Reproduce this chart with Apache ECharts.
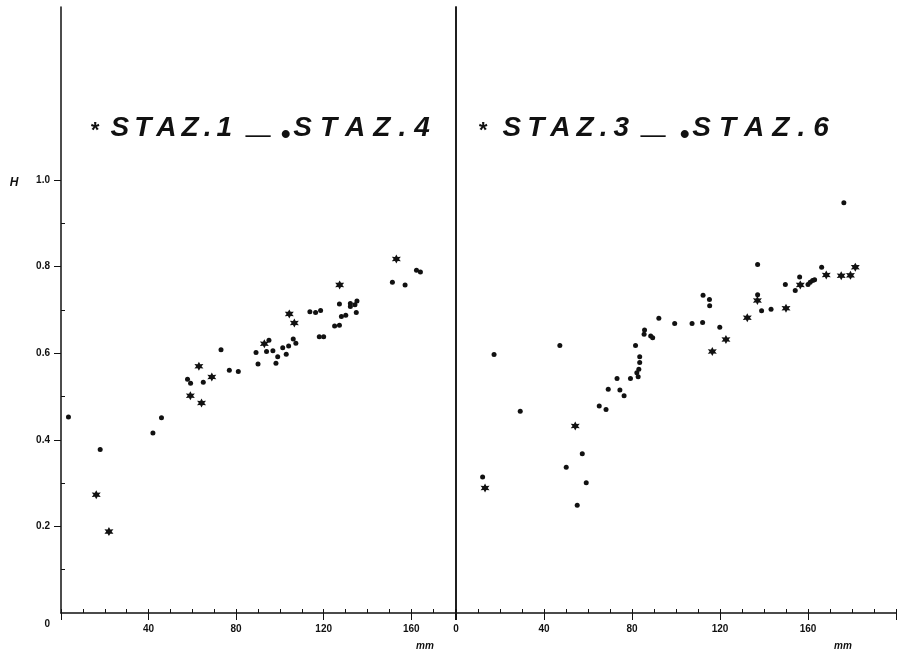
<!DOCTYPE html>
<html lang="it">
<head>
<meta charset="UTF-8">
<title>STAZ</title>
<script src="https://cdn.jsdelivr.net/npm/echarts@6/dist/echarts.min.js"></script>
<style>
  html, body { margin: 0; background: #fff; }
  #main { width: 900px; height: 656px; }
</style>
</head>
<body>
<div id="main"></div>
<script>
// values: [mm, H]
var staz1 = [[16.1,0.273],[21.9,0.188],[59.1,0.502],[63.0,0.570],[64.2,0.485],[68.9,0.545],
  [92.9,0.622],[104.3,0.691],[106.6,0.670],[127.3,0.758],[153.2,0.818]];
var staz4 = [[3.4,0.453],[17.9,0.378],[42.0,0.416],[45.9,0.451],[57.8,0.540],[59.2,0.531],
  [65.0,0.533],[73.1,0.608],[76.9,0.561],[81.0,0.558],[89.1,0.602],[90.0,0.575],[93.9,0.604],
  [95.0,0.630],[96.8,0.606],[98.2,0.577],[99.0,0.592],[101.3,0.613],[102.9,0.598],[104.0,0.617],
  [106.1,0.633],[107.3,0.623],[113.7,0.696],[116.3,0.694],[118.0,0.638],[118.6,0.699],[120.0,0.638],
  [125.0,0.663],[127.2,0.665],[127.2,0.714],[128.1,0.685],[130.1,0.688],[132.2,0.715],[132.2,0.708],
  [134.3,0.712],[134.9,0.694],[135.2,0.721],[151.4,0.764],[157.2,0.758],[162.4,0.792],[164.2,0.788]];
var staz3 = [[13.2,0.289],[54.2,0.432],[116.5,0.604],[122.7,0.632],[132.4,0.682],[137.0,0.722],
  [150.0,0.704],[156.5,0.758],[168.3,0.781],[175.1,0.779],[179.3,0.780],[181.5,0.799]];
var staz6 = [[12.1,0.314],[17.3,0.597],[29.2,0.466],[47.2,0.618],[50.1,0.337],[55.1,0.249],
  [57.4,0.368],[59.2,0.301],[65.1,0.478],[68.2,0.470],[69.2,0.517],[73.2,0.542],[74.5,0.515],
  [76.4,0.502],[79.3,0.542],[81.6,0.618],[82.2,0.555],[82.8,0.546],[83.1,0.563],[83.5,0.579],
  [83.5,0.592],[85.5,0.644],[85.7,0.654],[88.5,0.640],[89.4,0.636],[92.2,0.681],[99.4,0.669],
  [107.3,0.669],[112.1,0.671],[112.3,0.734],[115.2,0.724],[115.3,0.710],[119.9,0.660],[137.1,0.805],
  [137.1,0.735],[138.9,0.698],[143.2,0.702],[149.7,0.759],[154.2,0.745],[156.2,0.776],[160.0,0.759],
  [161.0,0.764],[162.1,0.768],[163.0,0.770],[166.2,0.799],[176.3,0.948]];

var yLabels = [0, 0.2, 0.4, 0.6, 0.8, 1.0];
var yMinor = [0.1, 0.3, 0.5, 0.7, 0.9];
var leftTitle = ['STAZ.1', 'STAZ.4'];
var rightTitle = ['STAZ.3', 'STAZ.6'];

var ink = '#111';
var star = 'path://M10 0L12.6 5.5L18.66 5L15.2 10L18.66 15L12.6 14.5L10 20L7.4 14.5L1.34 15L4.8 10L1.34 5L7.4 5.5Z';
var bold = { fontFamily: 'Liberation Sans', fontWeight: 'bold', color: ink };
var font = { fontFamily: 'Liberation Sans', fontWeight: 'bold', fontStyle: 'italic' };

function titleText(words) {
  var s = '{ast|*}';
  words.forEach(function (w, i) {
    if (i) s += '{u|_}{b|•}';
    for (var k = 0; k < w.length; k++) {
      s += '{' + (k === w.length - 1 ? 'e' : 'c' + i) + '|' + w[k] + '}';
    }
  });
  return s;
}

function tok(size, pad) {
  return Object.assign({ fontSize: size, lineHeight: 36, padding: pad, fill: ink }, font);
}

function titleEl(x, words, gaps, astPad, uPad) {
  return {
    type: 'text', x: x, y: 128,
    style: Object.assign({
      text: titleText(words),
      rich: {
        c0: tok(28, [12, gaps[0], 12, 0]),
        c1: tok(28, [12, gaps[1], 12, 0]),
        e: tok(28, [12, 0, 12, 0]),
        ast: tok(22, [15, astPad, 9, 2]),
        u: tok(44, [4, uPad[1], 20, uPad[0]]),
        b: tok(28, [19, 3, 5, 0])
      },
      fontSize: 28, fill: ink, verticalAlign: 'middle'
    }, font)
  };
}

function axisText(x, y, t, size) {
  return {
    type: 'text', x: x, y: y,
    style: Object.assign({ text: t, fontSize: size, fill: ink, align: 'center', verticalAlign: 'middle' }, font)
  };
}

var lineSt = { color: ink, width: 1.5 };

var option = {
  backgroundColor: '#fff',
  animation: false,
  grid: [
    { left: 61, top: 7, width: 394, height: 606 },
    { left: 456, top: 7, width: 440, height: 606 }
  ],
  xAxis: [
    { type: 'value', gridIndex: 0, min: 0, max: 180, interval: 40,
      axisLine: { lineStyle: lineSt }, splitLine: { show: false },
      axisTick: { length: 7, lineStyle: { color: ink } },
      axisLabel: Object.assign({ fontSize: 10, margin: 11,
        formatter: function (v) { return (v === 0 || v > 160) ? '' : String(v); } }, bold) },
    { type: 'value', gridIndex: 0, min: 0, max: 180, interval: 10,
      axisLine: { show: false }, splitLine: { show: false }, axisLabel: { show: false },
      axisTick: { length: 4, lineStyle: { color: ink } } },
    { type: 'value', gridIndex: 1, min: 0, max: 200, interval: 40,
      axisLine: { lineStyle: lineSt }, splitLine: { show: false },
      axisTick: { length: 7, lineStyle: { color: ink } },
      axisLabel: Object.assign({ fontSize: 10, margin: 11,
        formatter: function (v) { return v > 160 ? '' : String(v); } }, bold) },
    { type: 'value', gridIndex: 1, min: 0, max: 200, interval: 10,
      axisLine: { show: false }, splitLine: { show: false }, axisLabel: { show: false },
      axisTick: { length: 4, lineStyle: { color: ink } } }
  ],
  yAxis: [
    { type: 'value', gridIndex: 0, min: 0, max: 1.4, interval: 0.2,
      axisLine: { show: true, lineStyle: lineSt }, splitLine: { show: false },
      axisTick: { show: true, length: 7, customValues: yLabels.slice(1), lineStyle: { color: ink } },
      axisLabel: Object.assign({ fontSize: 10, margin: 11, customValues: yLabels,
        formatter: function (v) { return v === 0 ? '{z|0}' : v.toFixed(1); },
        rich: { z: { fontSize: 10, fontWeight: 'bold', padding: [22, 0, 0, 0] } } }, bold) },
    { type: 'value', gridIndex: 0, min: 0, max: 1.4,
      axisLine: { show: false }, splitLine: { show: false }, axisLabel: { show: false },
      axisTick: { show: true, length: 4, customValues: yMinor, lineStyle: { color: ink } } },
    { type: 'value', gridIndex: 1, min: 0, max: 1.4, position: 'left',
      axisLine: { show: true, lineStyle: lineSt }, splitLine: { show: false },
      axisTick: { show: false }, axisLabel: { show: false } },
    { type: 'value', gridIndex: 1, min: 0, max: 1.4, position: 'right',
      axisLine: { show: true, lineStyle: lineSt }, splitLine: { show: false },
      axisTick: { show: false }, axisLabel: { show: false } }
  ],
  graphic: [
    titleEl(88, leftTitle, [5, 8], 12, [16, 8]),
    titleEl(476, rightTitle, [6, 8], 16, [14, 12]),
    axisText(14, 183, 'H', 12),
    axisText(425, 646, 'mm', 10),
    axisText(843, 646, 'mm', 10)
  ],
  series: [
    { name: 'STAZ.1', type: 'scatter', xAxisIndex: 0, yAxisIndex: 0, data: staz1,
      symbol: star, symbolSize: 9, itemStyle: { color: ink, opacity: 1 } },
    { name: 'STAZ.4', type: 'scatter', xAxisIndex: 0, yAxisIndex: 0, data: staz4,
      symbol: 'circle', symbolSize: 5, itemStyle: { color: ink, opacity: 1 } },
    { name: 'STAZ.3', type: 'scatter', xAxisIndex: 2, yAxisIndex: 2, data: staz3,
      symbol: star, symbolSize: 9, itemStyle: { color: ink, opacity: 1 } },
    { name: 'STAZ.6', type: 'scatter', xAxisIndex: 2, yAxisIndex: 2, data: staz6,
      symbol: 'circle', symbolSize: 5, itemStyle: { color: ink, opacity: 1 } }
  ]
};

var chart = echarts.init(document.getElementById('main'));
chart.setOption(option);
</script>
</body>
</html>
